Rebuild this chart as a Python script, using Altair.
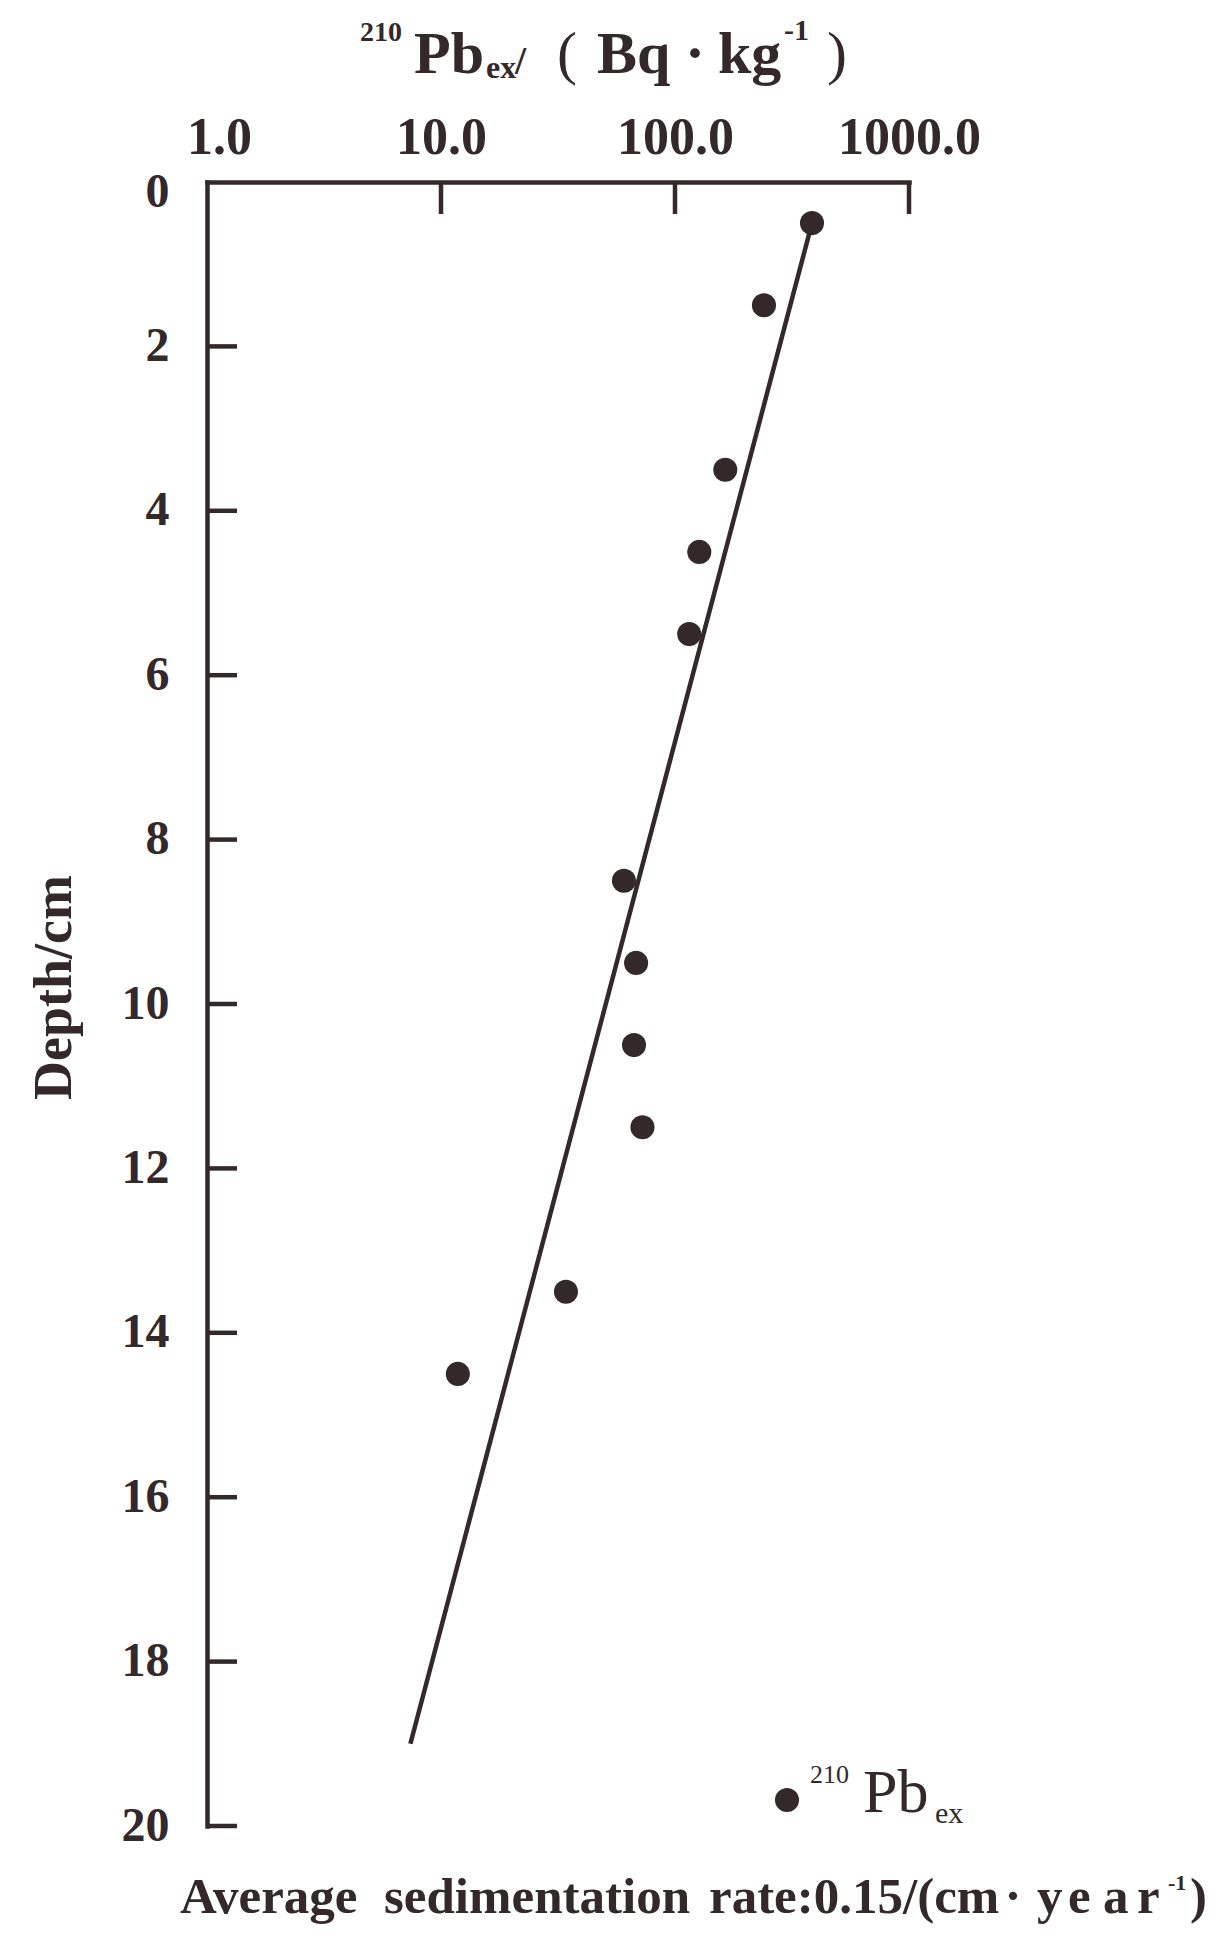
import altair as alt
import pandas as pd

# ---- data ----
depth_cm = [0.5, 1.5, 3.5, 4.5, 5.5, 8.5, 9.5, 10.5, 11.5, 13.5, 14.5]
pb210_bq = [385, 240, 164, 127, 115, 60.5, 68.2, 66.8, 72.6, 34.2, 11.8]

fit_depth = [0.5, 19.0]
fit_pb = [385, 7.4]

x_tick_values = [1, 10, 100, 1000]
x_inner_ticks = [10, 100, 1000]
y_tick_values = [0, 2, 4, 6, 8, 10, 12, 14, 16, 18, 20]
y_inner_ticks = [2, 4, 6, 8, 10, 12, 14, 16, 18, 20]

INK = "#33292a"
SERIF = "Liberation Serif"

pts = pd.DataFrame({"depth": depth_cm, "pb": pb210_bq})
fit = pd.DataFrame({"depth": fit_depth, "pb": fit_pb})
xt = pd.DataFrame({"pb": x_inner_ticks})
yt = pd.DataFrame({"depth": y_inner_ticks})
one = pd.DataFrame({"k": [0]})

xscale = alt.Scale(type="log", domain=[1, 1000], nice=False)
yscale = alt.Scale(domain=[0, 20], reverse=True, nice=False)

XAXIS = alt.Axis(orient="top", values=x_tick_values, format=".1f",
                 ticks=False, tickSize=0, labelPadding=29,
                 labelBaseline="alphabetic", labelFontSize=52,
                 labelFont=SERIF, labelFontWeight="bold",
                 labelColor=INK, domainColor=INK, domainWidth=4.5,
                 domainCap="square", grid=False, labelFlush=False,
                 labelOffset={"condition": {"test": "datum.value == 1", "value": 12},
                              "value": 0})
YAXIS = alt.Axis(orient="left", values=y_tick_values, ticks=False,
                 tickSize=0, labelPadding=38, labelFontSize=48,
                 labelFont=SERIF, labelFontWeight="bold",
                 labelColor=INK, domainColor=INK, domainWidth=4.5,
                 domainCap="square", grid=False, labelFlush=False,
                 labelOffset={"condition": {"test": "datum.value == 0", "value": 10},
                              "value": 0},
                 titleFont=SERIF, titleFontWeight="bold",
                 titleFontSize=54, titleColor=INK, titleAngle=270,
                 titleX=-153, titleY=805, titleAlign="center",
                 titleBaseline="middle")


def X():
    return alt.X("pb:Q", scale=xscale, axis=XAXIS, title=None)


def Y():
    return alt.Y("depth:Q", scale=yscale, axis=YAXIS, title="Depth/cm")


base_points = alt.Chart(pts).mark_circle(size=580, color=INK, opacity=1).encode(
    x=X(), y=Y())

fit_line = alt.Chart(fit).mark_line(color=INK, strokeWidth=4.5).encode(
    x=X(), y=Y(), order="depth:Q")

x_ticks = alt.Chart(xt).mark_rule(color=INK, strokeWidth=4.5).encode(
    x=X(), y=alt.value(0), y2=alt.value(32))

y_ticks = alt.Chart(yt).mark_rule(color=INK, strokeWidth=4.5).encode(
    y=Y(), x=alt.value(0), x2=alt.value(30))


def txt(s, x, y, size, weight="bold", align="left"):
    return alt.Chart(one).mark_text(
        text=s, align=align, baseline="alphabetic", fontSize=size,
        fontWeight=weight, font=SERIF, color=INK,
    ).encode(x=alt.value(x), y=alt.value(y))


# top title: 210Pbex/(Bq·kg-1)
title_parts = [
    txt("210", 153, -141, 28),
    txt("Pb", 207, -109, 60),
    txt("ex", 279, -104, 32),
    txt("/", 308, -108, 40),
    txt("(", 350, -109, 60, weight="normal"),
    txt("Bq", 390, -109, 60),
    txt("·", 488, -109, 60, align="center"),
    txt("kg", 511, -109, 60),
    txt("-1", 577, -142, 30),
    txt(")", 620, -109, 60, weight="normal"),
]

# legend
legend_dot = alt.Chart(one).mark_circle(size=580, color=INK, opacity=1).encode(
    x=alt.value(580), y=alt.value(1618))
legend_parts = [
    txt("210", 603, 1601, 26, weight="normal"),
    txt("Pb", 656, 1630, 62, weight="normal"),
    txt("ex", 728, 1641, 30, weight="normal"),
]

# bottom note
note_parts = [
    txt("Average", -27, 1731, 51),
    txt("sedimentation", 177, 1731, 51),
    txt("rate:0.15/(cm", 502, 1731, 51),
    txt("·", 806, 1731, 51, align="center"),
    txt("y", 830, 1731, 51),
    txt("e", 861, 1731, 51),
    txt("a", 896, 1731, 51),
    txt("r", 930, 1731, 51),
    txt("-1", 961, 1708, 22),
    txt(")", 983, 1731, 51),
]

chart = alt.layer(
    base_points, fit_line, x_ticks, y_ticks, legend_dot,
    *title_parts, *legend_parts, *note_parts,
).properties(
    width=702, height=1644,
    background="white",
    autosize=alt.AutoSizeParams(type="none"),
    padding={"left": 199, "top": 174, "right": 300, "bottom": 100},
).configure_view(stroke=None, strokeWidth=0)

chart.save("out.html", embed_options={"renderer": "svg", "actions": False})
